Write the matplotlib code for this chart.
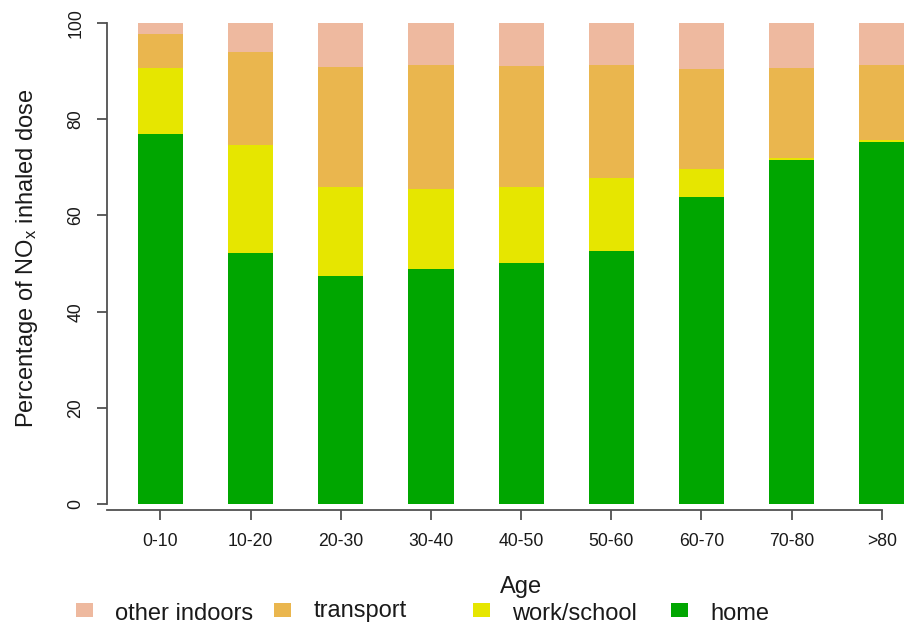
import matplotlib
matplotlib.use("Agg")
import matplotlib.pyplot as plt
from matplotlib.patches import Rectangle
import numpy as np

plt.rcParams['font.family'] = ['Liberation Sans', 'DejaVu Sans']
plt.rcParams['mathtext.fontset'] = 'custom'
plt.rcParams['mathtext.rm'] = 'Liberation Sans'
plt.rcParams['mathtext.it'] = 'Liberation Sans'

# Age groups and share of inhaled NOx dose (%) by micro-environment
age_groups = ['0-10', '10-20', '20-30', '30-40', '40-50', '50-60', '60-70', '70-80', '>80']
home = [76.9, 52.1, 47.4, 48.8, 50.0, 52.6, 63.8, 71.5, 75.3]
work_school = [13.7, 22.4, 18.4, 16.6, 15.9, 15.1, 5.9, 0.4, 0.3]
transport = [7.1, 19.5, 25.0, 25.7, 25.0, 23.4, 20.7, 18.7, 15.7]
other_indoors = [2.3, 6.0, 9.2, 8.9, 9.1, 8.9, 9.6, 9.4, 8.7]

series = [('home', home, '#00A600'),
          ('work/school', work_school, '#E6E600'),
          ('transport', transport, '#EAB64E'),
          ('other indoors', other_indoors, '#EEB99F')]

W, H = 915, 624
fig = plt.figure(figsize=(W / 100, H / 100), dpi=100)
ax = fig.add_axes([107 / W, (H - 509.7) / H, (905 - 107) / W, (509.7 - 15) / H])

x = np.arange(len(age_groups))
bottom = np.zeros(len(age_groups))
for name, vals, col in series:
    vals = np.array(vals)
    ax.bar(x, vals, width=0.5, bottom=bottom, color=col, linewidth=0)
    bottom += vals

ax.set_xlim(-0.593, 8.257)
ax.set_ylim(-1.12, 101.58)

axis_col = '#505050'
for s in ['top', 'right']:
    ax.spines[s].set_visible(False)
ax.spines['left'].set_bounds(0, 100)
ax.spines['bottom'].set_bounds(-0.593, 8)
for s in ['left', 'bottom']:
    ax.spines[s].set_color(axis_col)
    ax.spines[s].set_linewidth(1.3)

ax.set_yticks([0, 20, 40, 60, 80, 100])
ax.set_xticks(x)
ax.set_xticklabels(age_groups)
ax.tick_params(axis='both', length=7.2, width=1.3, color=axis_col,
               labelsize=12.7, labelcolor='#1a1a1a')
ax.tick_params(axis='x', pad=9.6)
ax.tick_params(axis='y', pad=9.0, labelrotation=90)
for lab in ax.get_yticklabels():
    lab.set_va('center')

# axis titles
fig.text(27 / W, 1 - 258 / H, 'Percentage of NO$_\\mathrm{x}$ inhaled dose',
         rotation=90, ha='center', va='center', fontsize=17, color='#1a1a1a')
fig.text(521 / W, 1 - 593 / H, 'Age', ha='center', va='baseline',
         fontsize=17, color='#1a1a1a')

# legend row along the bottom
legend_items = [('other indoors', '#EEB99F', 620),
                ('transport', '#EAB64E', 617),
                ('work/school', '#E6E600', 620),
                ('home', '#00A600', 620)]
for i, (lab, col, base) in enumerate(legend_items):
    x0 = 76 + i * 198.3
    fig.add_artist(Rectangle((x0 / W, (H - 617) / H), 17 / W, 14 / H,
                             transform=fig.transFigure, facecolor=col,
                             edgecolor='none'))
    fig.text((x0 + 39) / W, (H - base) / H, lab, ha='left', va='baseline',
             fontsize=17, color='#1a1a1a')

fig.savefig('out.png', dpi=100)
